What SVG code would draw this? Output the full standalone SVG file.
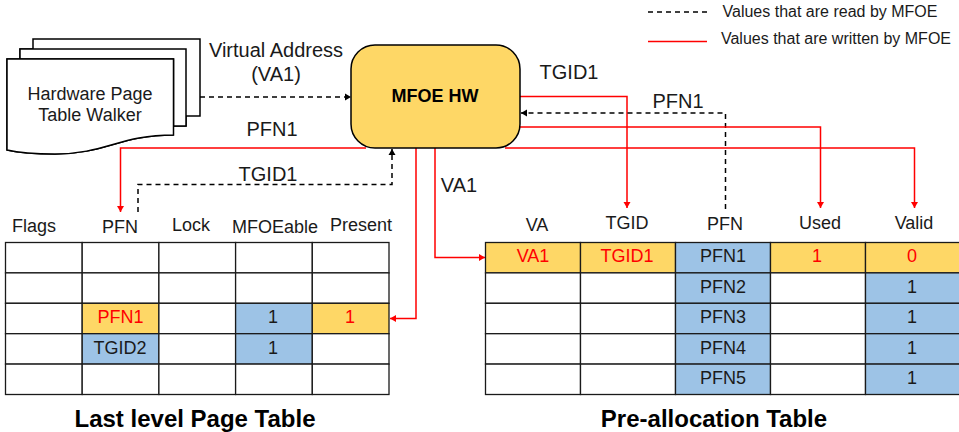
<svg xmlns="http://www.w3.org/2000/svg" width="959" height="432" viewBox="0 0 959 432">
<style>
text{font-family:"Liberation Sans",Arial,sans-serif;fill:#1a1a1a;text-anchor:middle}
.c{font-size:18px}.l{font-size:20px}.t{font-size:24px;font-weight:bold;fill:#000}.k{font-size:16px}.r{fill:#f00}
.cell{stroke:#1a1a1a;stroke-width:1.3;fill:#fff}.y{fill:#fed766}.b{fill:#9dc3e6}
.w{fill:none;stroke:#f00;stroke-width:1.5}.d{fill:none;stroke:#000;stroke-width:1.5;stroke-dasharray:5 4}
.doc{fill:#fff;stroke:#000;stroke-width:1.5}
</style>
<defs>
<marker id="ar" markerUnits="userSpaceOnUse" markerWidth="8" markerHeight="8" refX="7" refY="4" orient="auto"><path d="M1 0.5L7 4L1 7.500z" fill="#f00"/></marker>
<marker id="ak" markerUnits="userSpaceOnUse" markerWidth="8" markerHeight="8" refX="7" refY="4" orient="auto"><path d="M1 0.5L7 4L1 7.500z" fill="#000"/></marker>
</defs>
<g id="legend">
<path class="d" d="M648 12H707"/><path class="w" d="M648 41.500H707"/>
<text class="k" x="830" y="17">Values that are read by MFOE</text>
<text class="k" x="836" y="44">Values that are written by MFOE</text>
</g>
<g id="walker">
<path class="doc" d="M33 39H200V116H186V126H173V135C120 135 105 154 55 154C35 154 20 153 7 150V59H20V49H33Z"/>
<path class="doc" d="M20 59V49H186V126H173.500V59Z"/>
<path class="doc" d="M7 59H173.500V135C120 135 105 154 55 154C35 154 20 153 7 150Z"/>
<text class="c" x="90" y="100">Hardware Page</text>
<text class="c" x="90" y="121">Table Walker</text>
</g>
<g id="connectors">
<path class="d" d="M200 97H351" marker-end="url(#ak)"/>
<path class="w" d="M366 148H120.500V212" marker-end="url(#ar)"/>
<path class="d" d="M138 212V184.500H392V149" marker-end="url(#ak)"/>
<path class="w" d="M416 148V318.500H390" marker-end="url(#ar)"/>
<path class="w" d="M435 148V257.500H485" marker-end="url(#ar)"/>
<path class="w" d="M520 96.500H627V208" marker-end="url(#ar)"/>
<path class="d" d="M725.500 209V113H521" marker-end="url(#ak)"/>
<path class="w" d="M520 127H820.500V208" marker-end="url(#ar)"/>
<path class="w" d="M505 148H914.500V208" marker-end="url(#ar)"/>
</g>
<g id="mfoe">
<rect x="351" y="45" width="169" height="103" rx="24" fill="#fed766" stroke="#000" stroke-width="1.500"/>
<text x="435" y="102" font-size="18" font-weight="bold" style="fill:#000">MFOE HW</text>
</g>
<g id="labels" class="l">
<text class="l" x="276" y="57">Virtual Address</text><text class="l" x="276" y="81">(VA1)</text>
<text class="l" x="272" y="136">PFN1</text><text class="l" x="268" y="181">TGID1</text>
<text class="l" x="569" y="79">TGID1</text><text class="l" x="678" y="108">PFN1</text><text class="l" x="459" y="192">VA1</text>
</g>
<g id="last-level-table">
<rect class="cell" x="5.500" y="242.500" width="76.700" height="30.400"/><rect class="cell" x="82.200" y="242.500" width="76.700" height="30.400"/><rect class="cell" x="158.900" y="242.500" width="76.700" height="30.400"/><rect class="cell" x="235.600" y="242.500" width="76.700" height="30.400"/><rect class="cell" x="312.300" y="242.500" width="76.700" height="30.400"/>
<rect class="cell" x="5.500" y="272.900" width="76.700" height="30.400"/><rect class="cell" x="82.200" y="272.900" width="76.700" height="30.400"/><rect class="cell" x="158.900" y="272.900" width="76.700" height="30.400"/><rect class="cell" x="235.600" y="272.900" width="76.700" height="30.400"/><rect class="cell" x="312.300" y="272.900" width="76.700" height="30.400"/>
<rect class="cell" x="5.500" y="303.300" width="76.700" height="30.400"/><rect class="cell y" x="82.200" y="303.300" width="76.700" height="30.400"/><rect class="cell" x="158.900" y="303.300" width="76.700" height="30.400"/><rect class="cell b" x="235.600" y="303.300" width="76.700" height="30.400"/><rect class="cell y" x="312.300" y="303.300" width="76.700" height="30.400"/>
<rect class="cell" x="5.500" y="333.700" width="76.700" height="30.400"/><rect class="cell b" x="82.200" y="333.700" width="76.700" height="30.400"/><rect class="cell" x="158.900" y="333.700" width="76.700" height="30.400"/><rect class="cell b" x="235.600" y="333.700" width="76.700" height="30.400"/><rect class="cell" x="312.300" y="333.700" width="76.700" height="30.400"/>
<rect class="cell" x="5.500" y="364.100" width="76.700" height="30.400"/><rect class="cell" x="82.200" y="364.100" width="76.700" height="30.400"/><rect class="cell" x="158.900" y="364.100" width="76.700" height="30.400"/><rect class="cell" x="235.600" y="364.100" width="76.700" height="30.400"/><rect class="cell" x="312.300" y="364.100" width="76.700" height="30.400"/>
<text class="c" x="34" y="232">Flags</text><text class="c" x="120" y="233">PFN</text><text class="c" x="191" y="231">Lock</text><text class="c" x="275" y="233">MFOEable</text><text class="c" x="361" y="231">Present</text>
<text class="c r" x="120.500" y="323">PFN1</text><text class="c" x="273" y="323">1</text><text class="c r" x="350" y="323">1</text>
<text class="c" x="120" y="354">TGID2</text><text class="c" x="273" y="354">1</text>
<text class="t" x="195" y="427">Last level Page Table</text>
</g>
<g id="pre-allocation-table">
<rect class="cell y" x="485.500" y="242.500" width="95" height="30.400"/><rect class="cell y" x="580.500" y="242.500" width="95" height="30.400"/><rect class="cell b" x="675.500" y="242.500" width="95" height="30.400"/><rect class="cell y" x="770.500" y="242.500" width="95" height="30.400"/><rect class="cell y" x="865.500" y="242.500" width="95" height="30.400"/>
<rect class="cell" x="485.500" y="272.900" width="95" height="30.400"/><rect class="cell" x="580.500" y="272.900" width="95" height="30.400"/><rect class="cell b" x="675.500" y="272.900" width="95" height="30.400"/><rect class="cell" x="770.500" y="272.900" width="95" height="30.400"/><rect class="cell b" x="865.500" y="272.900" width="95" height="30.400"/>
<rect class="cell" x="485.500" y="303.300" width="95" height="30.400"/><rect class="cell" x="580.500" y="303.300" width="95" height="30.400"/><rect class="cell b" x="675.500" y="303.300" width="95" height="30.400"/><rect class="cell" x="770.500" y="303.300" width="95" height="30.400"/><rect class="cell b" x="865.500" y="303.300" width="95" height="30.400"/>
<rect class="cell" x="485.500" y="333.700" width="95" height="30.400"/><rect class="cell" x="580.500" y="333.700" width="95" height="30.400"/><rect class="cell b" x="675.500" y="333.700" width="95" height="30.400"/><rect class="cell" x="770.500" y="333.700" width="95" height="30.400"/><rect class="cell b" x="865.500" y="333.700" width="95" height="30.400"/>
<rect class="cell" x="485.500" y="364.100" width="95" height="30.400"/><rect class="cell" x="580.500" y="364.100" width="95" height="30.400"/><rect class="cell b" x="675.500" y="364.100" width="95" height="30.400"/><rect class="cell" x="770.500" y="364.100" width="95" height="30.400"/><rect class="cell b" x="865.500" y="364.100" width="95" height="30.400"/>
<text class="c" x="537" y="231">VA</text><text class="c" x="627" y="229">TGID</text><text class="c" x="725" y="230">PFN</text><text class="c" x="820" y="229">Used</text><text class="c" x="914" y="229">Valid</text>
<text class="c r" x="533" y="262">VA1</text><text class="c r" x="627" y="262">TGID1</text><text class="c" x="723" y="262">PFN1</text><text class="c r" x="817" y="262">1</text><text class="c r" x="912" y="262">0</text>
<text class="c" x="723" y="293">PFN2</text><text class="c" x="912" y="293">1</text>
<text class="c" x="723" y="323">PFN3</text><text class="c" x="912" y="323">1</text>
<text class="c" x="723" y="354">PFN4</text><text class="c" x="912" y="354">1</text>
<text class="c" x="723" y="384">PFN5</text><text class="c" x="912" y="384">1</text>
<text class="t" x="714" y="427">Pre-allocation Table</text>
</g>
</svg>
